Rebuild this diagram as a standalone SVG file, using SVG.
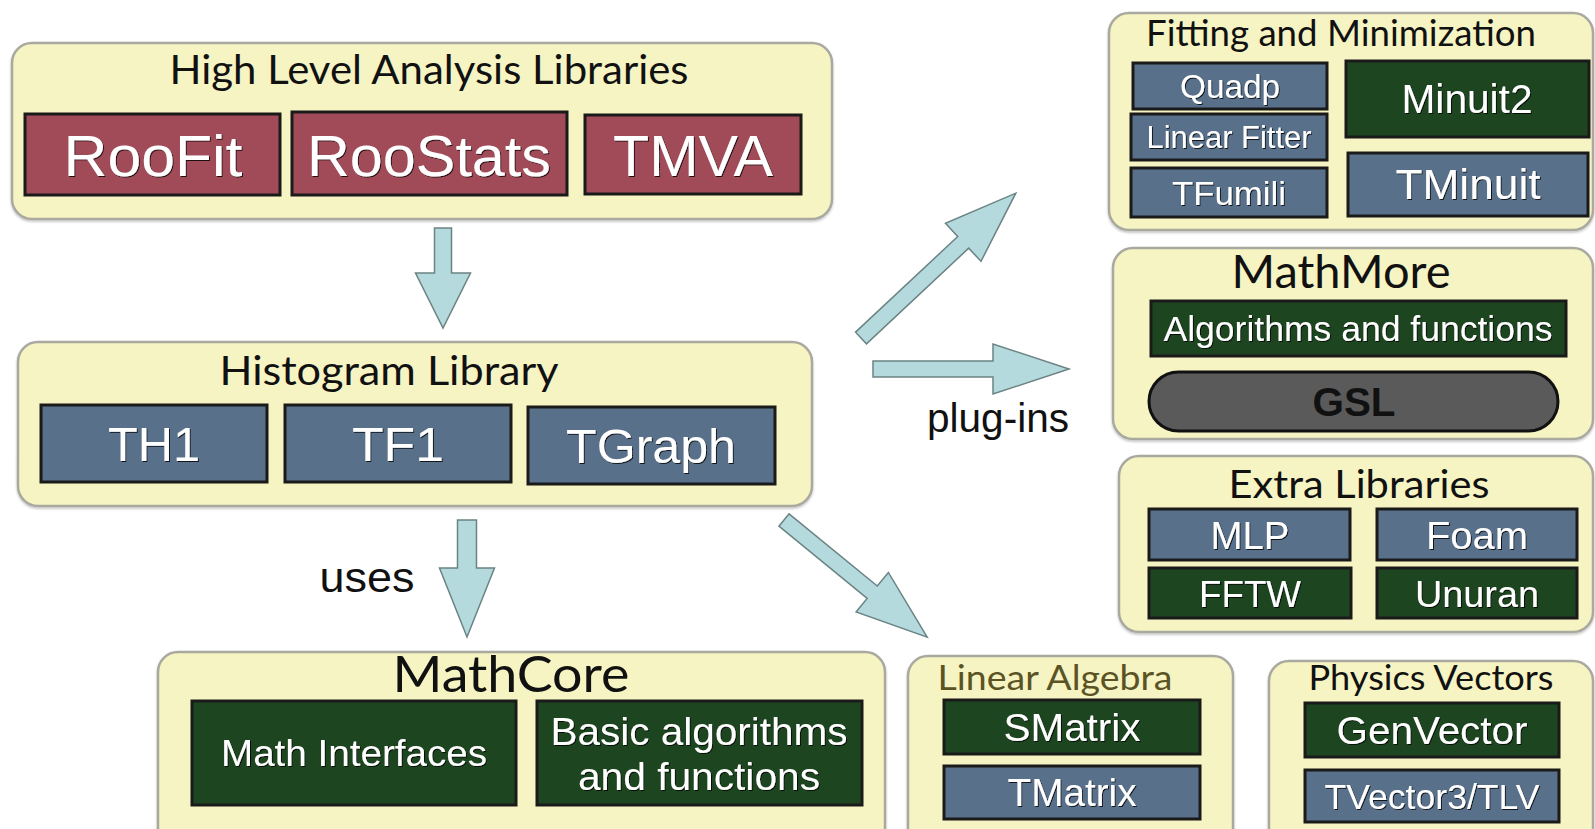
<svg xmlns="http://www.w3.org/2000/svg" width="1595" height="829" viewBox="0 0 1595 829">
<defs>
<filter id="ts" x="-10%" y="-20%" width="120%" height="140%">
<feDropShadow dx="1" dy="1" stdDeviation="0.7" flood-color="#000" flood-opacity="0.8"/>
</filter>
<filter id="cs" x="-5%" y="-5%" width="110%" height="115%">
<feDropShadow dx="0" dy="1.5" stdDeviation="1.2" flood-color="#000" flood-opacity="0.25"/>
</filter>
<style>
.cont{fill:#f6f4c3;stroke:#a9a9a0;stroke-width:2.5;filter:url(#cs)}
.red{fill:#a14b58;stroke:#1a1a1a;stroke-width:3}
.blue{fill:#587089;stroke:#1a1a1a;stroke-width:3}
.green{fill:#1d4620;stroke:#1a1a1a;stroke-width:3}
.title{font-family:Lato,"Open Sans",sans-serif;fill:#111;text-anchor:middle}
.bt{font-family:"Liberation Sans",Arial,sans-serif;fill:#ffffff;text-anchor:middle;filter:url(#ts)}
.lbl{font-family:"Liberation Sans",Arial,sans-serif;fill:#111;text-anchor:middle}
.arrow{fill:#b5dadd;stroke:#6b8383;stroke-width:1.5;stroke-linejoin:miter}
</style>
</defs>
<rect width="1595" height="829" fill="#ffffff"/>

<g id="high-level">
<rect class="cont" x="12" y="43" width="820" height="176" rx="20"/>
<text class="title" x="429" y="84" font-size="40" textLength="519" lengthAdjust="spacingAndGlyphs">High Level Analysis Libraries</text>
<rect class="red" x="25" y="114" width="255" height="81"/>
<text class="bt" x="153" y="176" font-size="58" textLength="179" lengthAdjust="spacingAndGlyphs">RooFit</text>
<rect class="red" x="292" y="112" width="275" height="83"/>
<text class="bt" x="429" y="176" font-size="58" textLength="244" lengthAdjust="spacingAndGlyphs">RooStats</text>
<rect class="red" x="585" y="115" width="216" height="79"/>
<text class="bt" x="693" y="176" font-size="58" textLength="160" lengthAdjust="spacingAndGlyphs">TMVA</text>
</g>

<g id="histogram">
<rect class="cont" x="18" y="342" width="794" height="164" rx="20"/>
<text class="title" x="389" y="385" font-size="40" textLength="339" lengthAdjust="spacingAndGlyphs">Histogram Library</text>
<rect class="blue" x="41" y="405" width="226" height="77"/>
<text class="bt" x="154" y="461" font-size="48" textLength="92" lengthAdjust="spacingAndGlyphs">TH1</text>
<rect class="blue" x="285" y="405" width="226" height="77"/>
<text class="bt" x="398" y="461" font-size="48" textLength="92" lengthAdjust="spacingAndGlyphs">TF1</text>
<rect class="blue" x="528" y="407" width="247" height="77"/>
<text class="bt" x="651" y="463" font-size="48" textLength="170" lengthAdjust="spacingAndGlyphs">TGraph</text>
</g>

<g id="mathcore">
<rect class="cont" x="158" y="652" width="727" height="200" rx="20"/>
<text class="title" x="511" y="692" font-size="50" textLength="237" lengthAdjust="spacingAndGlyphs">MathCore</text>
<rect class="green" x="192" y="701" width="324" height="104"/>
<text class="bt" x="354" y="766" font-size="37" textLength="266" lengthAdjust="spacingAndGlyphs">Math Interfaces</text>
<rect class="green" x="537" y="701" width="325" height="104"/>
<text class="bt" x="699" y="745" font-size="39" textLength="297" lengthAdjust="spacingAndGlyphs">Basic algorithms</text>
<text class="bt" x="699" y="790" font-size="39" textLength="242" lengthAdjust="spacingAndGlyphs">and functions</text>
</g>

<g id="linear-algebra">
<rect class="cont" x="908" y="656" width="325" height="200" rx="20"/>
<text class="title" x="1055" y="690" font-size="35" style="fill:#5b5323" textLength="235" lengthAdjust="spacingAndGlyphs">Linear Algebra</text>
<rect class="green" x="944" y="700" width="256" height="54"/>
<text class="bt" x="1072" y="741" font-size="39" textLength="137" lengthAdjust="spacingAndGlyphs">SMatrix</text>
<rect class="blue" x="944" y="766" width="256" height="53"/>
<text class="bt" x="1072" y="806" font-size="38" textLength="129" lengthAdjust="spacingAndGlyphs">TMatrix</text>
</g>

<g id="physics-vectors">
<rect class="cont" x="1269" y="661" width="324" height="200" rx="20"/>
<text class="title" x="1431" y="690" font-size="35" textLength="245" lengthAdjust="spacingAndGlyphs">Physics Vectors</text>
<rect class="green" x="1305" y="703" width="254" height="54"/>
<text class="bt" x="1432" y="744" font-size="39" textLength="191" lengthAdjust="spacingAndGlyphs">GenVector</text>
<rect class="blue" x="1305" y="770" width="254" height="52"/>
<text class="bt" x="1432" y="809" font-size="35" textLength="215" lengthAdjust="spacingAndGlyphs">TVector3/TLV</text>
</g>

<g id="fitting">
<rect class="cont" x="1109" y="13" width="484" height="217" rx="20"/>
<text class="title" x="1341" y="46" font-size="37" textLength="390" lengthAdjust="spacingAndGlyphs">Fitting and Minimization</text>
<rect class="blue" x="1133" y="63" width="194" height="46"/>
<text class="bt" x="1230" y="98" font-size="34" textLength="100" lengthAdjust="spacingAndGlyphs">Quadp</text>
<rect class="blue" x="1131" y="114" width="196" height="46"/>
<text class="bt" x="1229" y="148" font-size="31" textLength="165" lengthAdjust="spacingAndGlyphs">Linear Fitter</text>
<rect class="blue" x="1131" y="168" width="196" height="49"/>
<text class="bt" x="1229" y="205" font-size="34" textLength="114" lengthAdjust="spacingAndGlyphs">TFumili</text>
<rect class="green" x="1346" y="61" width="243" height="76"/>
<text class="bt" x="1467" y="113" font-size="40" textLength="131" lengthAdjust="spacingAndGlyphs">Minuit2</text>
<rect class="blue" x="1348" y="153" width="240" height="63"/>
<text class="bt" x="1468" y="199" font-size="43" textLength="145" lengthAdjust="spacingAndGlyphs">TMinuit</text>
</g>

<g id="mathmore">
<rect class="cont" x="1113" y="248" width="480" height="191" rx="20"/>
<text class="title" x="1341" y="288" font-size="46" textLength="219" lengthAdjust="spacingAndGlyphs">MathMore</text>
<rect class="green" x="1151" y="301" width="415" height="55"/>
<text class="bt" x="1358" y="341" font-size="35" textLength="389" lengthAdjust="spacingAndGlyphs">Algorithms and functions</text>
<rect x="1149" y="372" width="409" height="59" rx="29.5" fill="#5a5a5a" stroke="#111" stroke-width="3"/>
<text x="1354" y="416" font-size="40" font-weight="bold" font-family="'Liberation Sans',Arial,sans-serif" fill="#111" text-anchor="middle" textLength="83" lengthAdjust="spacingAndGlyphs">GSL</text>
</g>

<g id="extra-libraries">
<rect class="cont" x="1119" y="456" width="474" height="176" rx="20"/>
<text class="title" x="1359" y="498" font-size="39" textLength="261" lengthAdjust="spacingAndGlyphs">Extra Libraries</text>
<rect class="blue" x="1149" y="509" width="201" height="51"/>
<text class="bt" x="1250" y="549" font-size="38" textLength="79" lengthAdjust="spacingAndGlyphs">MLP</text>
<rect class="blue" x="1377" y="509" width="200" height="51"/>
<text class="bt" x="1477" y="549" font-size="38" textLength="102" lengthAdjust="spacingAndGlyphs">Foam</text>
<rect class="green" x="1149" y="568" width="202" height="50"/>
<text class="bt" x="1250" y="607" font-size="37" textLength="102" lengthAdjust="spacingAndGlyphs">FFTW</text>
<rect class="green" x="1377" y="568" width="200" height="50"/>
<text class="bt" x="1477" y="607" font-size="37" textLength="124" lengthAdjust="spacingAndGlyphs">Unuran</text>
</g>

<g id="connectors">
<polygon class="arrow" transform="translate(443,228) rotate(90)" points="0,-8.5 45,-8.5 45,-27.5 100,0 45,27.5 45,8.5 0,8.5"/>
<polygon class="arrow" transform="translate(467,520) rotate(90)" points="0,-9.5 48,-9.5 48,-27.5 117,0 48,27.5 48,9.5 0,9.5"/>
<polygon class="arrow" transform="translate(861,338) rotate(-43.1)" points="0,-8 140,-8 140,-26 212,0 140,26 140,8 0,8"/>
<polygon class="arrow" transform="translate(873,369) rotate(0)" points="0,-8 120,-8 120,-25 196,0 120,25 120,8 0,8"/>
<polygon class="arrow" transform="translate(784,520) rotate(39.3)" points="0,-8 114,-8 114,-25.5 185,0 114,25.5 114,8 0,8"/>
<text class="lbl" x="367" y="592" font-size="42" textLength="95" lengthAdjust="spacingAndGlyphs">uses</text>
<text class="lbl" x="998" y="432" font-size="40" textLength="142" lengthAdjust="spacingAndGlyphs">plug-ins</text>
</g>
</svg>
